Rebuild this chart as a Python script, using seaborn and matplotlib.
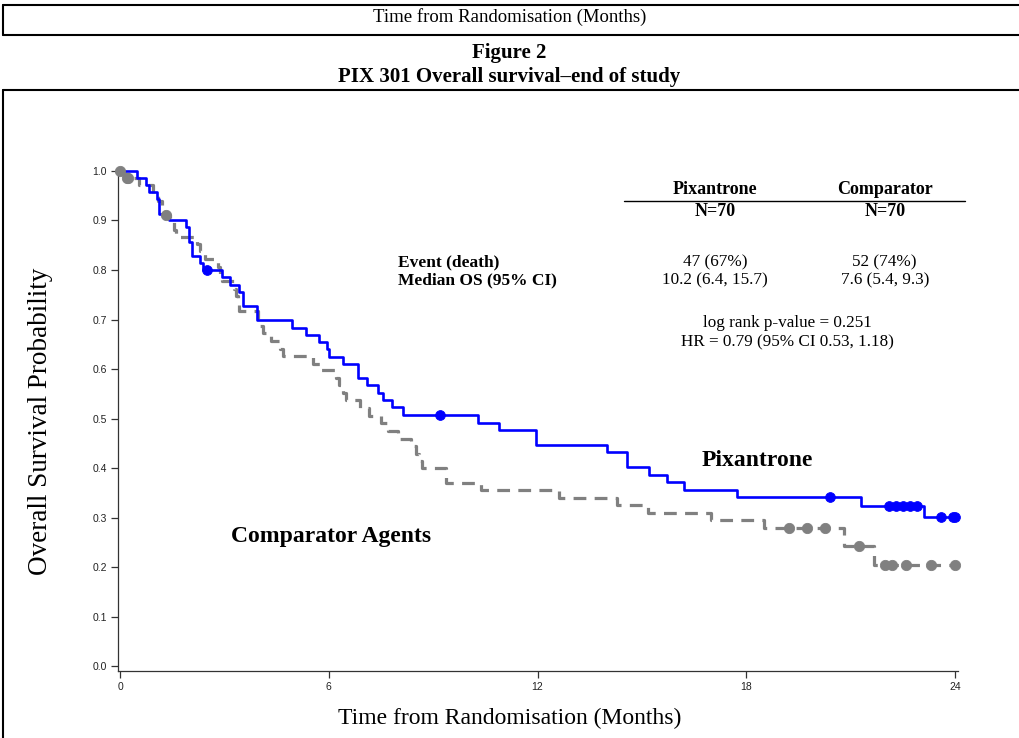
import matplotlib
matplotlib.use("Agg")
import matplotlib.pyplot as plt
from matplotlib.lines import Line2D
import seaborn as sns
import pandas as pd

# Pixantrone arm: step times (months) and survival after each step
pix_time = [0, 0.5, 0.74, 0.83, 1.06, 1.13, 1.42, 1.90, 1.99, 2.07, 2.31, 2.38,
            2.92, 3.16, 3.43, 3.52, 3.93, 4.93, 5.34, 5.72, 5.94, 6.01, 6.42,
            6.83, 7.09, 7.42, 7.55, 7.82, 8.12, 10.28, 10.90, 11.95, 13.99,
            14.57, 15.21, 15.71, 16.21, 17.72, 21.3, 23.11, 24.0]
pix_surv = [1.0, 0.986, 0.971, 0.957, 0.943, 0.914, 0.900, 0.886, 0.857, 0.829,
            0.814, 0.800, 0.785, 0.770, 0.756, 0.727, 0.698, 0.683, 0.669, 0.654,
            0.640, 0.625, 0.610, 0.581, 0.567, 0.552, 0.538, 0.523, 0.508, 0.491,
            0.477, 0.446, 0.432, 0.402, 0.386, 0.371, 0.356, 0.341, 0.324, 0.302,
            0.302]
pix_cens_time = [2.51, 9.21, 20.4, 22.1, 22.3, 22.5, 22.7, 22.9, 23.6, 23.95, 24.0]
pix_cens_surv = [0.800, 0.508, 0.341, 0.324, 0.324, 0.324, 0.324, 0.324, 0.302, 0.302, 0.302]

# Comparator arm
cmp_time = [0, 0.1, 0.55, 0.95, 1.1, 1.2, 1.3, 1.45, 1.55, 1.62, 2.2, 2.3, 2.45,
            2.83, 2.88, 2.93, 3.28, 3.34, 3.38, 3.42, 3.96, 4.02, 4.11, 4.35, 4.59,
            4.68, 5.56, 5.75, 6.2, 6.3, 6.4, 6.5, 6.9, 7.15, 7.5, 7.7, 8.0, 8.35,
            8.5, 8.6, 8.68, 9.37, 10.37, 12.63, 14.29, 15.17, 17.0, 18.5, 20.82,
            21.68, 24.0]
cmp_surv = [1.0, 0.985, 0.971, 0.955, 0.940, 0.926, 0.911, 0.896, 0.881, 0.867,
            0.852, 0.838, 0.822, 0.807, 0.792, 0.777, 0.762, 0.747, 0.732, 0.717,
            0.702, 0.687, 0.672, 0.656, 0.641, 0.626, 0.611, 0.597, 0.582, 0.567,
            0.552, 0.537, 0.521, 0.505, 0.490, 0.474, 0.459, 0.444, 0.429, 0.414,
            0.400, 0.370, 0.356, 0.340, 0.325, 0.309, 0.295, 0.279, 0.243, 0.205,
            0.205]
cmp_cens_time = [0.0, 0.19, 0.24, 1.33, 19.24, 19.74, 20.25, 21.25, 22.0, 22.2, 22.6, 23.3, 24.0]
cmp_cens_surv = [1.0, 0.985, 0.985, 0.911, 0.279, 0.279, 0.279, 0.243, 0.205, 0.205, 0.205, 0.205, 0.205]

x_ticks = [0, 6, 12, 18, 24]
y_ticks = [0.0, 0.1, 0.2, 0.3, 0.4, 0.5, 0.6, 0.7, 0.8, 0.9, 1.0]

BLUE = "#0000ff"
GREY = "#808080"

sns.set_style("ticks")
plt.rcParams["font.family"] = ["Liberation Serif", "DejaVu Serif"]
plt.rcParams["text.color"] = "black"
plt.rcParams["axes.labelcolor"] = "black"

pix = pd.DataFrame({"time": pix_time, "surv": pix_surv})
cmp_ = pd.DataFrame({"time": cmp_time, "surv": cmp_surv})
pix_c = pd.DataFrame({"time": pix_cens_time, "surv": pix_cens_surv})
cmp_c = pd.DataFrame({"time": cmp_cens_time, "surv": cmp_cens_surv})

fig = plt.figure(figsize=(10.19, 7.38), dpi=100)
ax = fig.add_axes([0.1161, 0.0908, 0.8245, 0.6775])

sns.lineplot(data=cmp_, x="time", y="surv", ax=ax, color=GREY, lw=2.3,
             drawstyle="steps-post", estimator=None, linestyle=(0, (4, 2.6)),
             clip_on=False, zorder=2)
sns.lineplot(data=pix, x="time", y="surv", ax=ax, color=BLUE, lw=1.9,
             drawstyle="steps-post", estimator=None, clip_on=False, zorder=3)
sns.scatterplot(data=cmp_c, x="time", y="surv", ax=ax, color=GREY, s=55,
                edgecolor=GREY, clip_on=False, zorder=4)
sns.scatterplot(data=pix_c, x="time", y="surv", ax=ax, color=BLUE, s=50,
                edgecolor=BLUE, clip_on=False, zorder=5)

ax.set_xlim(-0.05, 24.1)
ax.set_ylim(-0.01, 1.0)
ax.set_xticks(x_ticks)
ax.set_xticklabels([str(t) for t in x_ticks], fontfamily="Liberation Sans", fontsize=7.5)
ax.set_yticks(y_ticks)
ax.set_yticklabels([f"{v:.1f}" for v in y_ticks], fontfamily="Liberation Sans", fontsize=7.5)
ax.tick_params(length=5, width=0.9, color="#333333", labelcolor="#222222", pad=3)
for s in ["left", "bottom"]:
    ax.spines[s].set_color("#333333")
    ax.spines[s].set_linewidth(0.9)
sns.despine(ax=ax)
ax.set_xlabel("Time from Randomisation (Months)", fontsize=17)
ax.xaxis.set_label_coords(0.466, -0.073)
ax.set_ylabel("Overall Survival Probability", fontsize=19.5)
ax.yaxis.set_label_coords(-0.078, 0.5)

# summary table inside the plot
bold = dict(fontweight="bold", fontsize=13, ha="center", va="center")
norm = dict(fontsize=12.3, ha="center", va="center")
ax.text(17.1, 0.962, "Pixantrone", **bold)
ax.text(21.98, 0.962, "Comparator", **bold)
ax.plot([14.5, 24.3], [0.94, 0.94], color="black", lw=1.0, clip_on=False)
ax.text(17.1, 0.919, "N=70", **bold)
ax.text(21.98, 0.919, "N=70", **bold)
ax.text(7.99, 0.816, "Event (death)", fontweight="bold", fontsize=12.5, ha="left", va="center")
ax.text(7.99, 0.780, "Median OS (95% CI)", fontweight="bold", fontsize=12.5, ha="left", va="center")
ax.text(17.1, 0.816, "47 (67%)", **norm)
ax.text(17.1, 0.780, "10.2 (6.4, 15.7)", **norm)
ax.text(21.98, 0.816, "52 (74%)", **norm)
ax.text(21.98, 0.780, "7.6 (5.4, 9.3)", **norm)
ax.text(19.17, 0.693, "log rank p-value = 0.251", **norm)
ax.text(19.17, 0.653, "HR = 0.79 (95% CI 0.53, 1.18)", **norm)
ax.text(18.33, 0.416, "Pixantrone", fontweight="bold", fontsize=17, ha="center", va="center")
ax.text(6.06, 0.261, "Comparator Agents", fontweight="bold", fontsize=17, ha="center", va="center")

# headings and frame lines
fig.text(0.5, 1 - 17 / 738, "Time from Randomisation (Months)", fontsize=13.5,
         ha="center", va="center")
fig.text(0.5, 1 - 53 / 738, "Figure 2", fontsize=15, fontweight="bold",
         ha="center", va="center")
fig.text(0.5, 1 - 77 / 738, "PIX 301 Overall survival\u2013end of study", fontsize=15,
         fontweight="bold", ha="center", va="center")

def fig_line(x0, y0, x1, y1):
    fig.add_artist(Line2D([x0 / 1019, x1 / 1019], [1 - y0 / 738, 1 - y1 / 738],
                          color="black", lw=1.5))

fig_line(3, 5, 1019, 5)
fig_line(3, 5, 3, 35)
fig_line(3, 35, 1019, 35)
fig_line(3, 90, 1019, 90)
fig_line(3, 90, 3, 738)

fig.savefig("out.png", dpi=100)
